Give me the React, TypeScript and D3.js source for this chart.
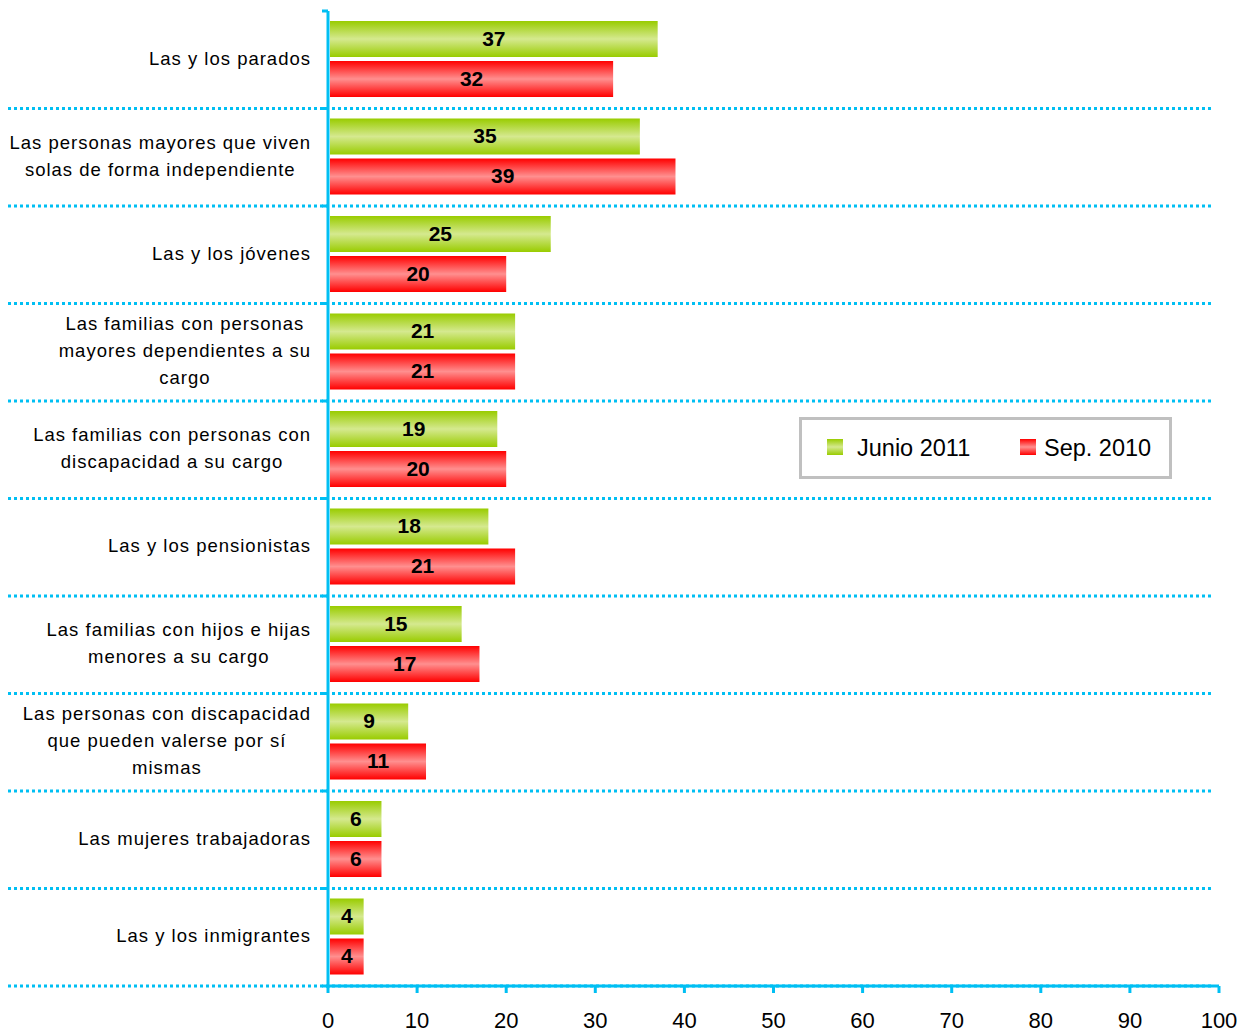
import React, { useEffect, useRef } from 'react';
import * as d3 from 'd3';

const categories: string[][] = [
  ['Las y los parados'],
  ['Las personas mayores que viven', 'solas de forma independiente'],
  ['Las y los jóvenes'],
  ['Las familias con personas', 'mayores dependientes a su', 'cargo'],
  ['Las familias con personas con', 'discapacidad a su cargo'],
  ['Las y los pensionistas'],
  ['Las familias con hijos e hijas', 'menores a su cargo'],
  ['Las personas con discapacidad', 'que pueden valerse por sí', 'mismas'],
  ['Las mujeres trabajadoras'],
  ['Las y los inmigrantes'],
];

const junio2011 = [37, 35, 25, 21, 19, 18, 15, 9, 6, 4];
const sep2010 = [32, 39, 20, 21, 20, 21, 17, 11, 6, 4];
const xTicks = [0, 10, 20, 30, 40, 50, 60, 70, 80, 90, 100];
const seriesNames = ['Junio 2011', 'Sep. 2010'];

const W = 1252;
const H = 1034;
const FONT = '"Liberation Sans", Arial, sans-serif';
const AXIS = '#00bff3';

const App = () => {
  const ref = useRef<SVGSVGElement | null>(null);

  useEffect(() => {
    const el = ref.current;
    if (!el) return;
    const svg = d3.select(el);
    svg.selectAll('*').remove();

    const x = d3.scaleLinear().domain([0, 100]).range([328, 1219]);
    const y = d3
      .scaleBand<number>()
      .domain(d3.range(categories.length))
      .range([11, 986]);

    const defs = svg.append('defs');
    const grad = (id: string, edge: string, mid: string) => {
      const g = defs
        .append('linearGradient')
        .attr('id', id)
        .attr('x1', 0)
        .attr('y1', 0)
        .attr('x2', 0)
        .attr('y2', 1);
      g.append('stop').attr('offset', '0%').attr('stop-color', edge);
      g.append('stop').attr('offset', '50%').attr('stop-color', mid);
      g.append('stop').attr('offset', '100%').attr('stop-color', edge);
    };
    grad('g-green', '#99cc00', '#d5e98f');
    grad('g-red', '#ff0000', '#ff8f8f');

    // dotted separators
    const bounds = d3.range(1, categories.length + 1).map((i) => (y(i - 1) as number) + y.bandwidth());
    svg
      .selectAll('line.sep')
      .data(bounds)
      .enter()
      .append('line')
      .attr('x1', 8)
      .attr('x2', 1213)
      .attr('y1', (d) => d)
      .attr('y2', (d) => d)
      .attr('stroke', AXIS)
      .attr('stroke-width', 3)
      .attr('stroke-dasharray', '3,3');

    const bh = 36;
    const series = [
      { values: junio2011, fill: 'url(#g-green)', off: 10 },
      { values: sep2010, fill: 'url(#g-red)', off: 50 },
    ];

    series.forEach((s) => {
      const g = svg.append('g');
      g.selectAll('rect')
        .data(s.values)
        .enter()
        .append('rect')
        .attr('x', x(0) + 2)
        .attr('y', (_, i) => (y(i) as number) + s.off)
        .attr('width', (d) => x(d) - x(0) - 2)
        .attr('height', bh)
        .attr('fill', s.fill);
      g.selectAll('text')
        .data(s.values)
        .enter()
        .append('text')
        .attr('x', (d) => (x(0) + x(d)) / 2 + 1)
        .attr('y', (_, i) => (y(i) as number) + s.off + bh / 2)
        .attr('dy', '0.32em')
        .attr('text-anchor', 'middle')
        .style('font-family', FONT)
        .style('font-size', '21px')
        .style('font-weight', 'bold')
        .style('fill', '#000')
        .text((d) => d);
    });

    // vertical axis
    svg
      .append('line')
      .attr('x1', x(0))
      .attr('x2', x(0))
      .attr('y1', 11)
      .attr('y2', 988)
      .attr('stroke', AXIS)
      .attr('stroke-width', 3);
    svg
      .selectAll('line.ytick')
      .data([11, ...bounds])
      .enter()
      .append('line')
      .attr('x1', x(0) - 6)
      .attr('x2', x(0))
      .attr('y1', (d) => d)
      .attr('y2', (d) => d)
      .attr('stroke', AXIS)
      .attr('stroke-width', 3);

    // horizontal axis
    const xa = svg.append('g').attr('transform', 'translate(0,986)');
    xa.append('line')
      .attr('x1', x(0))
      .attr('x2', x(100))
      .attr('stroke', AXIS)
      .attr('stroke-width', 3);
    xa.selectAll('line.tk')
      .data(xTicks)
      .enter()
      .append('line')
      .attr('x1', (d) => x(d))
      .attr('x2', (d) => x(d))
      .attr('y1', 0)
      .attr('y2', 7)
      .attr('stroke', AXIS)
      .attr('stroke-width', 3);
    xa.selectAll('text')
      .data(xTicks)
      .enter()
      .append('text')
      .attr('x', (d) => x(d))
      .attr('y', 42)
      .attr('text-anchor', 'middle')
      .style('font-family', FONT)
      .style('font-size', '22px')
      .style('fill', '#000')
      .text((d) => d);

    // category labels: centered lines, block right-aligned
    const lineH = 27;
    categories.forEach((lines, i) => {
      const cy = (y(i) as number) + y.bandwidth() / 2;
      const t = svg
        .append('text')
        .attr('text-anchor', 'middle')
        .style('font-family', FONT)
        .style('font-size', '18.5px')
        .style('letter-spacing', '1px')
        .style('fill', '#000');
      lines.forEach((ln, j) => {
        t.append('tspan')
          .attr('y', cy + (j - (lines.length - 1) / 2) * lineH)
          .attr('dy', '0.28em')
          .text(ln);
      });
      const maxW = d3.max(t.selectAll<SVGTSpanElement, unknown>('tspan').nodes(), (n) => n.getComputedTextLength()) || 0;
      t.selectAll('tspan').attr('x', 311 - maxW / 2);
    });

    // legend
    const lg = svg.append('g');
    lg.append('rect')
      .attr('x', 800.5)
      .attr('y', 418.5)
      .attr('width', 370)
      .attr('height', 59)
      .attr('fill', '#fff')
      .attr('stroke', '#c0c0c0')
      .attr('stroke-width', 3);
    const swatchX = [827, 1020];
    const labelX = [857, 1044];
    seriesNames.forEach((name, i) => {
      lg.append('rect')
        .attr('x', swatchX[i])
        .attr('y', 439)
        .attr('width', 16)
        .attr('height', 16)
        .attr('fill', series[i].fill);
      lg.append('text')
        .attr('x', labelX[i])
        .attr('y', 448)
        .attr('dy', '0.34em')
        .style('font-family', FONT)
        .style('font-size', '23.5px')
        .style('fill', '#000')
        .text(name);
    });
  }, []);

  return (
    <svg
      ref={ref}
      width={W}
      height={H}
      style={{ position: 'absolute', left: 0, top: 0, background: '#fff' }}
    />
  );
};

export default App;
